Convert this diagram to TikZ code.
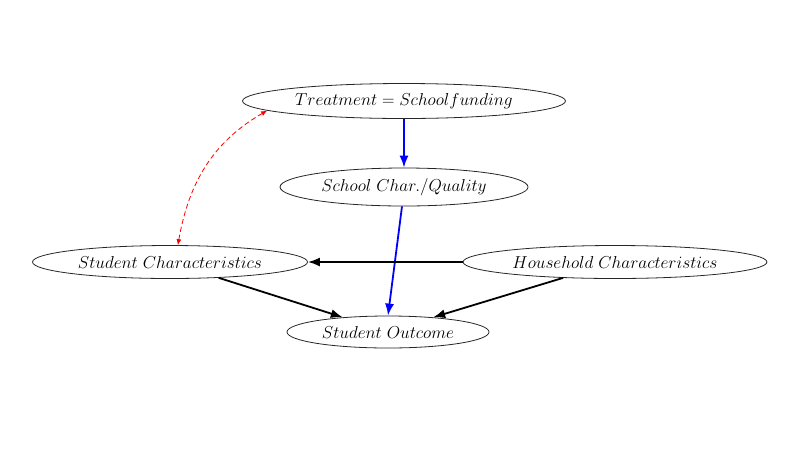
\documentclass[tikz,border=0pt]{standalone}
\usetikzlibrary{shapes.geometric,arrows.meta}
\begin{document}
\begin{tikzpicture}[x=1pt,y=-1pt,
  ell/.style={ellipse,draw=black!85,line width=0.8pt,inner sep=0pt,font=\fontsize{16.6}{19}\selectfont},
  blkarrow/.style={-{Latex[length=12pt,width=9pt]},line width=1.8pt,black},
  bluarrow/.style={-{Latex[length=12pt,width=9pt]},line width=1.8pt,blue},
  redarrow/.style={{Latex[length=6pt,width=5pt]}-{Latex[length=6pt,width=5pt]},line width=0.8pt,red,dash pattern=on 5pt off 3pt}]
\useasboundingbox (0,0) rectangle (806,467);
\node[ell,minimum width=323pt,minimum height=35pt] (treat) at (404,101) {$Treatment = Schoolfunding$};
\node[ell,minimum width=248pt,minimum height=38pt] (school) at (404,187) {$School\ Char./Quality$};
\node[ell,minimum width=275pt,minimum height=33pt] (stud) at (170,262) {$Student\ Characteristics$};
\node[ell,minimum width=304pt,minimum height=33pt] (house) at (615,262) {$Household\ Characteristics$};
\node[ell,minimum width=202pt,minimum height=32pt] (outc) at (388,332) {$Student\ Outcome$};
\coordinate (s1) at ([xshift=-2pt]school.south);
\draw[bluarrow] (treat.south) -- (school.north);
\draw[bluarrow] (s1) -- (outc.north);
\draw[blkarrow] (house.west) -- (stud.east);
\draw[blkarrow] (stud.-18) -- (outc.162);
\draw[blkarrow] (house.197) -- (outc.18);
\draw[redarrow] (stud.65) to[out=80,in=210] (treat.184);
\end{tikzpicture}
\end{document}
